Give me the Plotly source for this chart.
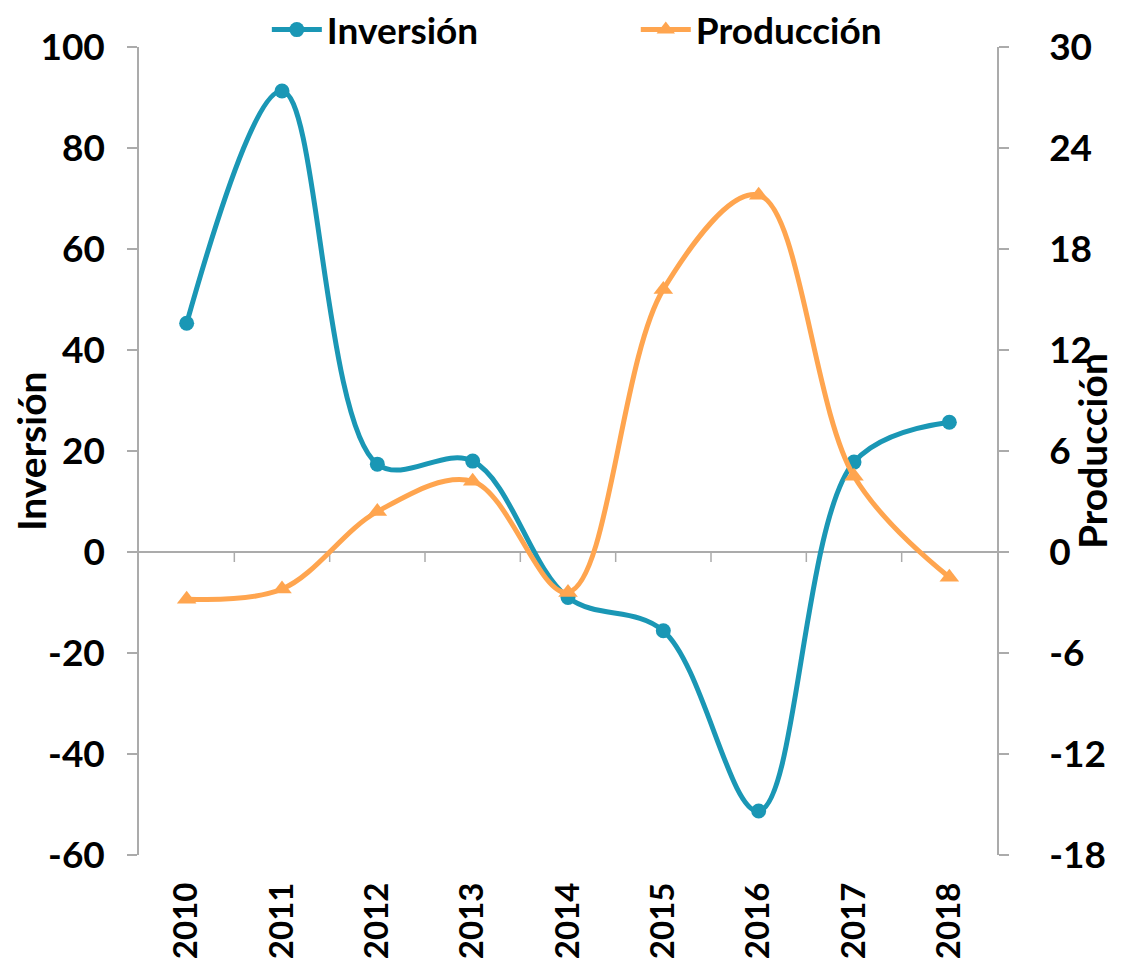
import plotly.graph_objects as go

years = ["2010", "2011", "2012", "2013", "2014", "2015", "2016", "2017", "2018"]
inversion = [45.3, 91.3, 17.4, 18.0, -9.0, -15.6, -51.3, 17.8, 25.7]
produccion = [-2.8, -2.2, 2.4, 4.2, -2.4, 15.6, 21.2, 4.5, -1.5]
left_ticks = [-60, -40, -20, 0, 20, 40, 60, 80, 100]
right_ticks = [-18, -12, -6, 0, 6, 12, 18, 24, 30]

teal = "#1A97B5"
orange = "#FFA54F"
FONT = "Lato"
GRAY = "#ABABAB"

fig = go.Figure()
fig.add_trace(go.Scatter(
    x=years, y=inversion, name="Inversión", mode="lines+markers",
    line=dict(color=teal, width=5, shape="spline", smoothing=1.0),
    marker=dict(symbol="circle", size=15, color=teal),
    yaxis="y", legend="legend",
))
fig.add_trace(go.Scatter(
    x=years, y=produccion, name="Producción", mode="lines+markers",
    line=dict(color=orange, width=5, shape="spline", smoothing=1.0),
    marker=dict(symbol="triangle-up", size=17, color=orange),
    yaxis="y2", legend="legend2",
))

# tick marks on the zero line between categories
for i in range(len(years) - 1):
    fig.add_shape(type="line", xref="x", yref="y", x0=i + 0.5, x1=i + 0.5,
                  ysizemode="pixel", yanchor=0, y0=0, y1=-10,
                  line=dict(color=GRAY, width=1.5), layer="below")

bold = lambda s: dict(family=FONT, size=s, color="black", weight="bold")

legend_common = dict(orientation="h", y=1.021, yanchor="middle", xanchor="left",
                     font=bold(37), itemwidth=50, bgcolor="rgba(0,0,0,0)")

fig.update_layout(
    width=1108, height=951,
    margin=dict(l=131, r=119, t=39, b=104, autoexpand=False),
    plot_bgcolor="white", paper_bgcolor="white",
    font=dict(family=FONT, color="black", size=28),
    showlegend=True,
    legend=dict(x=0.149, **legend_common),
    legend2=dict(x=0.579, **legend_common),
    xaxis=dict(
        type="category", range=[-0.5, 8.5], showgrid=False, showline=False,
        ticks="", tickangle=-90, ticklabelstandoff=20, automargin=False,
        tickfont=bold(33),
    ),
    yaxis=dict(
        range=[-60, 100], showgrid=False, automargin=False,
        tickvals=left_ticks, ticktext=[str(v) for v in left_ticks],
        showline=True, linecolor=GRAY, linewidth=1.5,
        ticks="outside", ticklen=10, tickcolor=GRAY, tickwidth=1.5,
        ticklabelstandoff=15,
        zeroline=True, zerolinecolor=GRAY, zerolinewidth=1.5,
        tickfont=bold(37),
    ),
    yaxis2=dict(
        range=[-18, 30], overlaying="y", side="right", showgrid=False, automargin=False,
        tickvals=right_ticks, ticktext=[str(v) for v in right_ticks],
        showline=True, linecolor=GRAY, linewidth=1.5,
        ticks="outside", ticklen=10, tickcolor=GRAY, tickwidth=1.5,
        ticklabelstandoff=33,
        zeroline=False,
        tickfont=bold(37),
    ),
    annotations=[
        dict(text="Inversión", xref="paper", yref="paper", x=-0.1259, y=0.5,
             xanchor="center", yanchor="middle", textangle=-90, showarrow=False,
             font=bold(39)),
        dict(text="Producción", xref="paper", yref="paper", x=1.1107, y=0.5,
             xanchor="center", yanchor="middle", textangle=-90, showarrow=False,
             font=bold(39)),
    ],
)

fig.write_html("out.html")
